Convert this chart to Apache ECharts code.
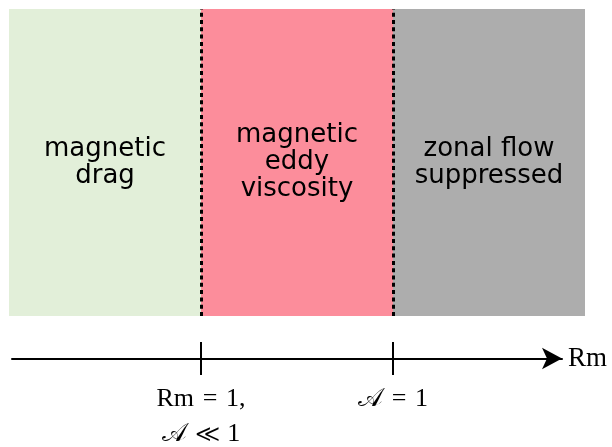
<!DOCTYPE html>
<html>
<head>
<meta charset="utf-8">
<script src="https://cdn.jsdelivr.net/npm/echarts@6/dist/echarts.min.js"></script>
<style>
html, body { margin: 0; padding: 0; background: #fff; }
#main { width: 612px; height: 447px; }
</style>
</head>
<body>
<div id="main"></div>
<script>
// regimes along Rm
var regionNames = ['magnetic\ndrag', 'magnetic\neddy\nviscosity', 'zonal flow\nsuppressed'];
var regionEdges = [0, 1, 2, 3];
var regionColors = ['#e2efd9', '#fc8d9b', '#adadad'];
// transitions
var boundaries = [1, 2];
var tickValues = [1, 2];
var tickLabels = ['Rm\u2004=\u20041,\n𝒜\u2004≪\u20041', '𝒜\u2004=\u20041'];

var myChart = echarts.init(document.getElementById('main'));

var areas = [];
for (var i = 0; i < regionNames.length; i++) {
    areas.push([
        { name: regionNames[i], xAxis: regionEdges[i], itemStyle: { color: regionColors[i] } },
        { xAxis: regionEdges[i + 1] }
    ]);
}

var option = {
    animation: false,
    grid: [
        { left: 9, top: 9, width: 576, height: 307, outerBoundsMode: 'none', containLabel: false },
        { left: 12, top: 342, width: 550, height: 33, outerBoundsMode: 'none', containLabel: false }
    ],
    xAxis: [
        { gridIndex: 0, type: 'value', min: 0, max: 3, show: false },
        {
            gridIndex: 1, type: 'value', min: 3 / 192, max: 3 / 192 + 550 / 192,
            axisLine: {
                onZero: true,
                symbol: ['none', 'arrow'],
                symbolSize: [16, 20],
                lineStyle: { color: '#000', width: 2 }
            },
            axisTick: { show: false },
            splitLine: { show: false },
            axisLabel: {
                customValues: tickValues,
                margin: 7,
                fontFamily: 'Liberation Serif',
                fontSize: 26,
                lineHeight: 35,
                color: '#000',
                verticalAlign: 'top',
                formatter: function (v) {
                    return tickLabels[tickValues.indexOf(v)];
                }
            },
            name: 'Rm',
            nameLocation: 'end',
            nameGap: 6,
            nameTextStyle: { fontFamily: 'Liberation Serif', fontSize: 27, color: '#000' }
        }
    ],
    yAxis: [
        { gridIndex: 0, type: 'value', min: 0, max: 1, show: false },
        { gridIndex: 1, type: 'value', min: -1, max: 1, show: false }
    ],
    series: [
        {
            type: 'line',
            xAxisIndex: 0,
            yAxisIndex: 0,
            data: [],
            markArea: {
                silent: true,
                label: {
                    position: 'inside',
                    color: '#000',
                    fontFamily: 'DejaVu Sans',
                    fontSize: 26,
                    lineHeight: 27,
                    align: 'center'
                },
                data: areas
            },
            markLine: {
                silent: true,
                symbol: 'none',
                label: { show: false },
                lineStyle: { color: '#000', width: 3, type: [4, 3.3], cap: 'butt' },
                data: boundaries.map(function (b) { return { xAxis: b }; })
            }
        },
        {
            type: 'line',
            xAxisIndex: 1,
            yAxisIndex: 1,
            data: [],
            markLine: {
                silent: true,
                symbol: 'none',
                label: { show: false },
                lineStyle: { color: '#000', width: 2, type: 'solid' },
                data: tickValues.map(function (t) { return { xAxis: t }; })
            }
        }
    ]
};
myChart.setOption(option);
</script>
</body>
</html>
